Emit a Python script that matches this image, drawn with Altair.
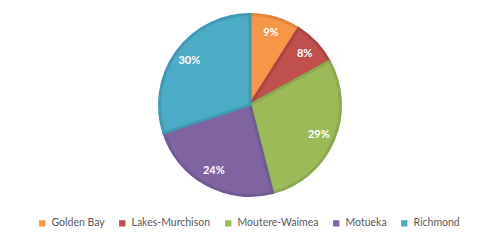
import altair as alt
import pandas as pd

regions = ["Golden Bay", "Lakes-Murchison", "Moutere-Waimea", "Motueka", "Richmond"]
shares = [9, 8, 29, 24, 30]
fills = ["#F79646", "#C0504D", "#9BBB59", "#8064A2", "#4BACC6"]
strokes = ["#E0873D", "#AC4542", "#8BA94E", "#725A92", "#429AB2"]

df = pd.DataFrame({
    "region": regions,
    "share": shares,
    "order": list(range(len(regions))),
    "label": [f"{v}%" for v in shares],
})

base = alt.Chart(df).encode(
    theta=alt.Theta("share:Q", stack=True),
    order=alt.Order("order:Q"),
    x=alt.value(250),
    y=alt.value(105),
)

pie = base.mark_arc(outerRadius=90.5, strokeWidth=3, strokeJoin="miter").encode(
    color=alt.Color(
        "region:N",
        scale=alt.Scale(domain=regions, range=fills),
        legend=alt.Legend(
            title=None,
            orient="none",
            legendX=37,
            legendY=218,
            direction="horizontal",
            symbolType="square",
            symbolSize=40,
            symbolStrokeWidth=0,
            labelFont="Lato",
            labelFontSize=10.5,
            labelColor="#595959",
            labelOffset=4,
            columnPadding=12,
        ),
    ),
    stroke=alt.Stroke(
        "region:N",
        scale=alt.Scale(domain=regions, range=strokes),
        legend=None,
    ),
)

labels = base.mark_text(
    radius=75, font="Lato", fontSize=11, fontWeight="bold", color="white"
).encode(text="label:N")

chart = (
    alt.layer(pie, labels)
    .properties(width=501, height=244, autosize=alt.AutoSizeParams(type="none"), padding=0)
    .configure_view(stroke=None)
)

chart.save("out.html", embed_options={"renderer": "svg", "actions": False})
